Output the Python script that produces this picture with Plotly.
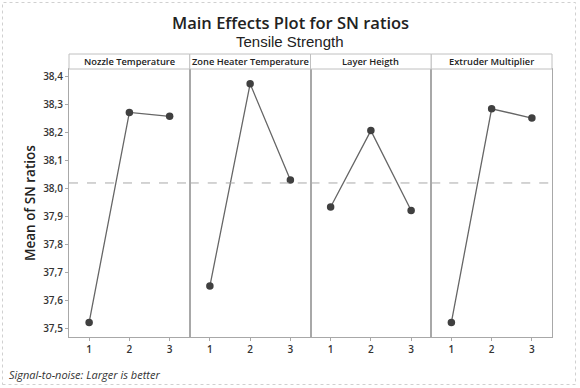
import plotly.graph_objects as go

factors = ["Nozzle Temperature", "Zone Heater Temperature", "Layer Heigth", "Extruder Multiplier"]
levels = [1, 2, 3]
nozzle = [37.52, 38.27, 38.256]
zone = [37.65, 38.372, 38.029]
layer = [37.932, 38.205, 37.92]
extruder = [37.52, 38.283, 38.25]
series = [nozzle, zone, layer, extruder]
grand_mean = 38.018
y_ticks = [37.5, 37.6, 37.7, 37.8, 37.9, 38.0, 38.1, 38.2, 38.3, 38.4]

W, H = 580, 388
ml, mr, mt, mb = 69, 28, 54, 51
pw = W - ml - mr
ph = H - mt - mb
strip_px = 15
ytop = (ph - strip_px) / ph

fig = go.Figure()
n = len(factors)
axis_col = "#a8a8a8"
for i, (f, vals) in enumerate(zip(factors, series)):
    xa = "x" if i == 0 else f"x{i+1}"
    ya = "y" if i == 0 else f"y{i+1}"
    fig.add_trace(go.Scatter(
        x=levels, y=vals, mode="lines+markers", xaxis=xa, yaxis=ya,
        line=dict(color="#666666", width=1.3),
        marker=dict(color="#404040", size=7.5, symbol="circle"),
        showlegend=False, hoverinfo="skip"))
    d0, d1 = i / n, (i + 1) / n
    xkey = "xaxis" if i == 0 else f"xaxis{i+1}"
    ykey = "yaxis" if i == 0 else f"yaxis{i+1}"
    fig.layout[xkey] = dict(
        domain=[d0, d1], range=[0.5, 3.5], tickvals=levels, ticktext=[str(v) for v in levels],
        showgrid=False, zeroline=False, showline=True, linecolor=axis_col, linewidth=1,
        mirror=True, ticks="outside", ticklen=3, tickcolor=axis_col,
        tickfont=dict(family="Open Sans", size=10, color="#333333", weight=600),
        anchor=ya, fixedrange=True)
    fig.layout[ykey] = dict(
        domain=[0, ytop], range=[37.468, 38.425], tickvals=y_ticks, tickformat=".1f",
        showgrid=False, zeroline=False, showline=True, linecolor=axis_col, linewidth=1,
        mirror=True, ticks="outside" if i == 0 else "", ticklen=3, tickcolor=axis_col,
        showticklabels=(i == 0),
        tickfont=dict(family="Open Sans", size=10, color="#333333", weight=600),
        anchor=xa, fixedrange=True)
    fig.add_shape(type="line", xref=f"{xa} domain", yref=ya, x0=0, x1=1,
                  y0=grand_mean, y1=grand_mean,
                  line=dict(color="#a8a8a8", width=1, dash="dash"))
    fig.add_shape(type="rect", xref="paper", yref="paper", x0=d0, x1=d1, y0=ytop, y1=1,
                  line=dict(color="#c0c0c0", width=1), fillcolor="white")
    fig.add_annotation(text=f, xref="paper", yref="paper", x=(d0 + d1) / 2, y=(ytop + 1) / 2,
                       showarrow=False, xanchor="center", yanchor="middle",
                       font=dict(family="Open Sans", size=9.3, color="#222222", weight=600))


def px_x(p):
    return (p - ml) / pw


def px_y(p):
    return (H - mb - p) / ph


fig.add_shape(type="rect", xref="paper", yref="paper",
              x0=px_x(2.5), x1=px_x(575.5), y0=px_y(384.5), y1=px_y(2.5),
              line=dict(color="#d0d0d0", width=1, dash="dot"), layer="below")

fig.add_annotation(text="Main Effects Plot for SN ratios", xref="paper", yref="paper",
                   x=px_x(290), y=px_y(22), showarrow=False, xanchor="center", yanchor="middle",
                   font=dict(family="Open Sans", size=16.5, color="#222222", weight=600))
fig.add_annotation(text="Tensile Strength", xref="paper", yref="paper",
                   x=px_x(290), y=px_y(42), showarrow=False, xanchor="center", yanchor="middle",
                   font=dict(family="Liberation Sans", size=15, color="#222222"))
fig.add_annotation(text="Mean of SN ratios", xref="paper", yref="paper",
                   x=px_x(30), y=ytop / 2, showarrow=False, textangle=-90,
                   xanchor="center", yanchor="middle",
                   font=dict(family="Open Sans", size=13.5, color="#222222", weight=600))
fig.add_annotation(text="<i>Signal-to-noise: Larger is better</i>", xref="paper", yref="paper",
                   x=px_x(7), y=px_y(374), showarrow=False, xanchor="left", yanchor="middle",
                   font=dict(family="Open Sans", size=11, color="#333333"))

fig.update_layout(
    width=W, height=H, margin=dict(l=ml, r=mr, t=mt, b=mb),
    paper_bgcolor="white", plot_bgcolor="white", separators=", ",
    showlegend=False)

fig.write_html("out.html", config={"displayModeBar": False},
               post_script="document.body.style.margin='0';document.body.style.overflow='hidden';")
